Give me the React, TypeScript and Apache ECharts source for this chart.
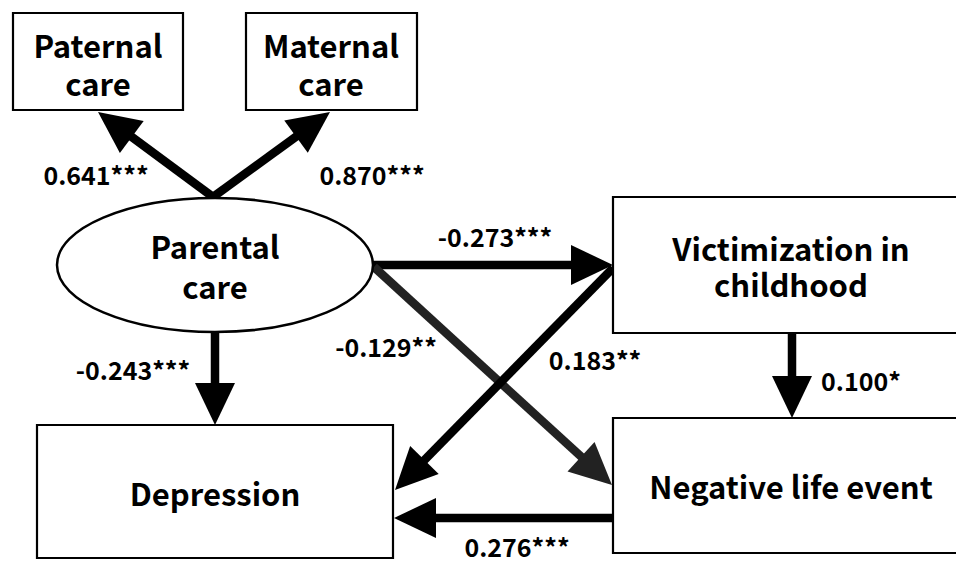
import React, { useEffect, useRef } from "react";
import * as echarts from "echarts";

// ---- data ----
const nodeIds = ["paternal", "maternal", "parental", "victim", "depression", "negative"];
const nodeLabels = [
  "Paternal\ncare",
  "Maternal\ncare",
  "Parental\ncare",
  "Victimization in\nchildhood",
  "Depression",
  "Negative life event",
];
const pathFrom = ["parental", "parental", "parental", "parental", "parental", "victim", "victim", "negative"];
const pathTo = ["paternal", "maternal", "depression", "victim", "negative", "depression", "negative", "depression"];
const coefficients = [0.641, 0.870, -0.243, -0.273, -0.129, 0.183, 0.100, 0.276];
const significance = ["***", "***", "***", "***", "**", "**", "*", "***"];

// ---- layout (positions / sizes / styles) ----
const nodeLayout: Record<string, any> = {
  paternal: { shape: "rect", x: 13, y: 13, w: 170, h: 97, tx: 98, ty: 63, lh: 38 },
  maternal: { shape: "rect", x: 246, y: 13, w: 171, h: 97, tx: 331, ty: 63, lh: 38 },
  parental: { shape: "ellipse", cx: 215, cy: 265, rx: 158, ry: 67, tx: 215, ty: 265, lh: 40 },
  victim: { shape: "rect", x: 613, y: 197, w: 356, h: 136, tx: 791, ty: 265, lh: 36 },
  depression: { shape: "rect", x: 37, y: 425, w: 356, h: 133, tx: 215, ty: 492, lh: 36 },
  negative: { shape: "rect", x: 613, y: 418, w: 356, h: 135, tx: 791, ty: 485, lh: 36 },
};
const pathLayout = [
  { s: [213, 197], e: [98, 112], lx: 96, ly: 174, color: "#000" },
  { s: [213, 197], e: [330, 112], lx: 372, ly: 174, color: "#000" },
  { s: [215, 332], e: [215, 425], lx: 133, ly: 369, color: "#000" },
  { s: [373, 265], e: [613, 265], lx: 495, ly: 236, color: "#000" },
  { s: [374, 267], e: [612, 485], lx: 386, ly: 346, color: "#222" },
  { s: [613, 268], e: [395, 490], lx: 595, ly: 359, color: "#000" },
  { s: [792, 333], e: [792, 418], lx: 861, ly: 380, color: "#000" },
  { s: [612, 518], e: [394, 518], lx: 517, ly: 546, color: "#000" },
];
const FONT = '"Noto Sans CJK JP", "Noto Sans", sans-serif';
const LINE_W = 8.5;
const HEAD_LEN = 42;
const HEAD_HALF = 20;

function buildGraphics() {
  const els: any[] = [];
  // arrows
  pathFrom.forEach((from, i) => {
    const L = pathLayout[i];
    const [sx, sy] = L.s;
    const [ex, ey] = L.e;
    const dx = ex - sx;
    const dy = ey - sy;
    const len = Math.sqrt(dx * dx + dy * dy);
    const ux = dx / len;
    const uy = dy / len;
    const bx = ex - ux * HEAD_LEN;
    const by = ey - uy * HEAD_LEN;
    const px = -uy;
    const py = ux;
    els.push({
      type: "line",
      shape: { x1: sx, y1: sy, x2: bx + ux * 2, y2: by + uy * 2 },
      style: { stroke: L.color, lineWidth: LINE_W, lineCap: "butt" },
      z: 1,
    });
    els.push({
      type: "polygon",
      shape: {
        points: [
          [ex, ey],
          [bx + px * HEAD_HALF, by + py * HEAD_HALF],
          [bx - px * HEAD_HALF, by - py * HEAD_HALF],
        ],
      },
      style: { fill: L.color },
      z: 1,
    });
    els.push({
      type: "text",
      x: L.lx,
      y: L.ly,
      style: {
        text: (coefficients[i] < 0 ? "-" : "") + Math.abs(coefficients[i]).toFixed(3) + significance[i],
        font: `bold 25px ${FONT}`,
        fill: "#000",
        align: "center",
        verticalAlign: "middle",
      },
      z: 3,
    });
  });
  // nodes
  nodeIds.forEach((id, i) => {
    const N = nodeLayout[id];
    if (N.shape === "rect") {
      els.push({
        type: "rect",
        shape: { x: N.x, y: N.y, width: N.w, height: N.h },
        style: { fill: "#fff", stroke: "#000", lineWidth: 2.2 },
        z: 2,
      });
    } else {
      els.push({
        type: "ellipse",
        shape: { cx: N.cx, cy: N.cy, rx: N.rx, ry: N.ry },
        style: { fill: "#fff", stroke: "#000", lineWidth: 2.5 },
        z: 2,
      });
    }
    const lines = nodeLabels[i].split("\n");
    lines.forEach((line, k) => {
      const offset = (k - (lines.length - 1) / 2) * N.lh;
      els.push({
        type: "text",
        x: N.tx,
        y: N.ty + offset,
        style: {
          text: line,
          font: `bold 31px ${FONT}`,
          fill: "#000",
          align: "center",
          verticalAlign: "middle",
        },
        z: 3,
      });
    });
  });
  return els;
}

export default function App() {
  const ref = useRef<HTMLDivElement>(null);
  useEffect(() => {
    if (!ref.current) return;
    const chart = echarts.init(ref.current, null, { renderer: "svg" });
    chart.setOption({
      animation: false,
      backgroundColor: "#fff",
      graphic: { elements: buildGraphics() },
    });
    return () => chart.dispose();
  }, []);
  return <div ref={ref} style={{ width: 956, height: 561, position: "fixed", left: 0, top: 0 }} />;
}
